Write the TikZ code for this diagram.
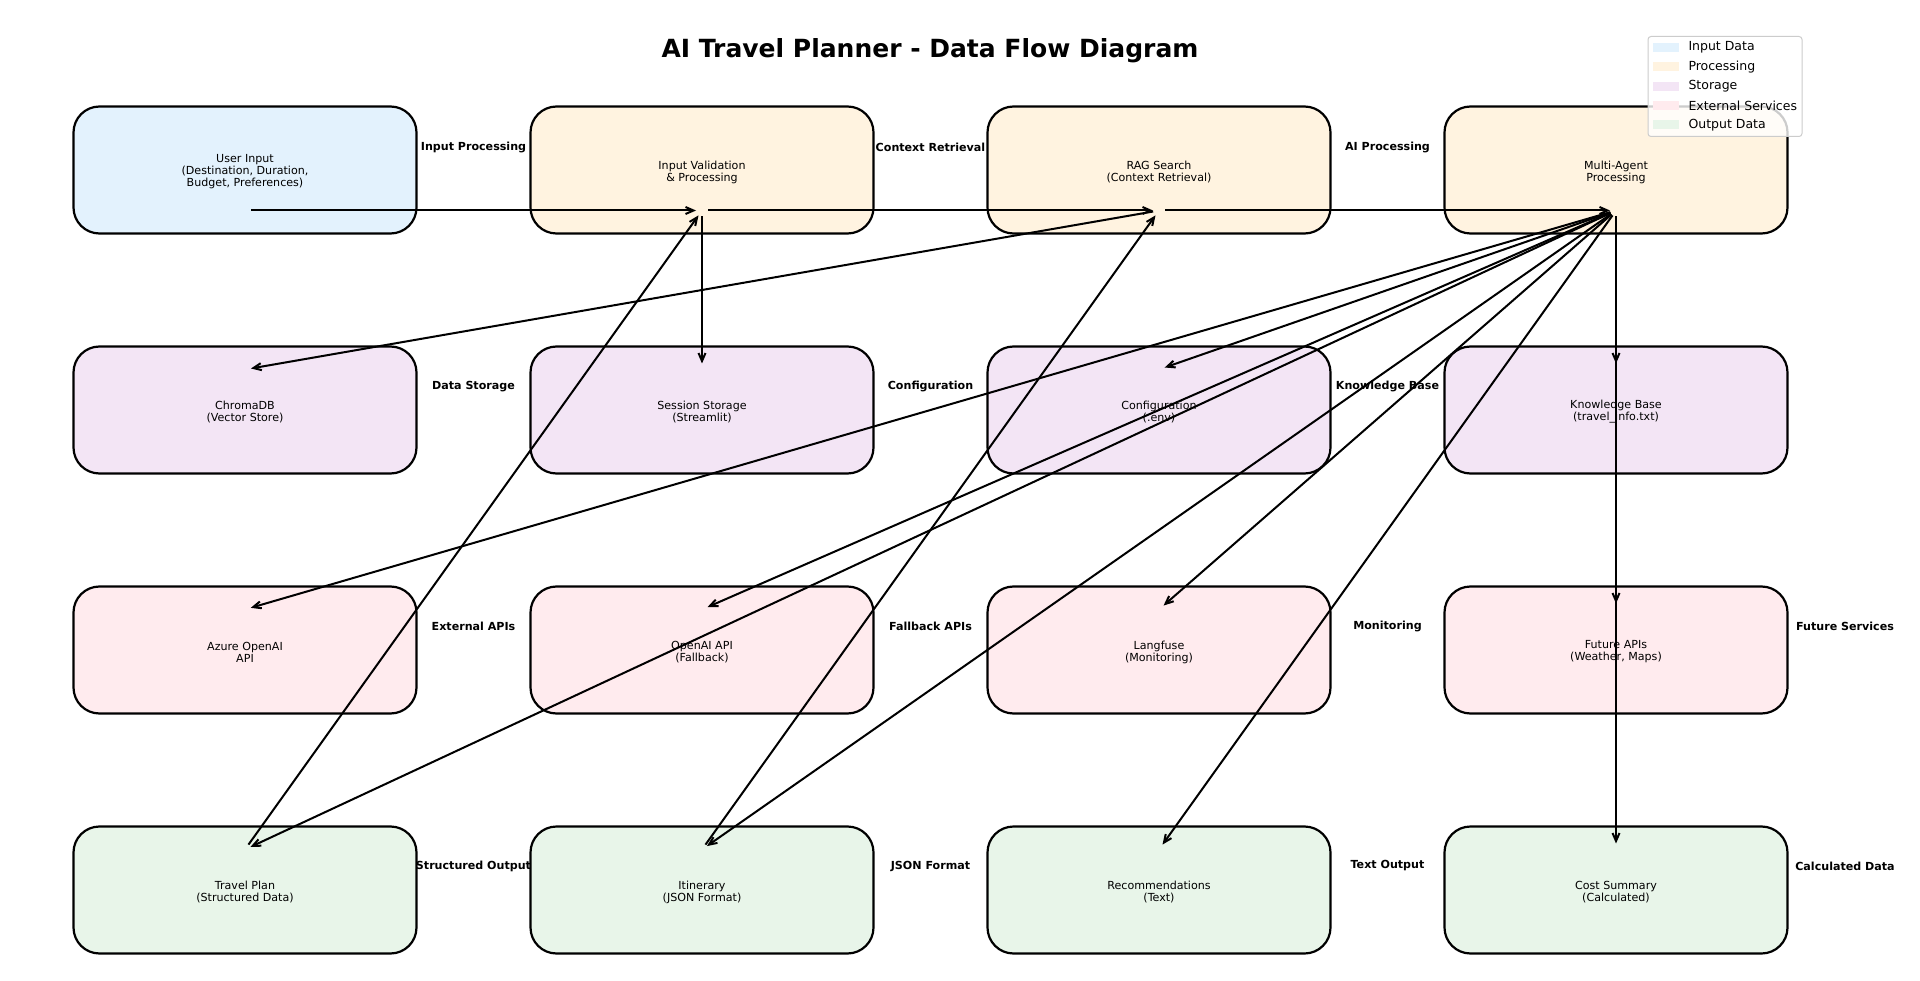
\documentclass[tikz,border=0pt]{standalone}
\usepackage{fontspec}
\setmainfont{DejaVu Sans}
\usetikzlibrary{arrows.meta}
\definecolor{cin}{HTML}{E3F2FD}
\definecolor{cproc}{HTML}{FFF3E0}
\definecolor{cstor}{HTML}{F3E5F5}
\definecolor{cext}{HTML}{FFEBEE}
\definecolor{cout}{HTML}{E8F5E9}
\begin{document}
\begin{tikzpicture}[x=1pt,y=-1pt,
  box/.style={draw=black, line width=2.2pt, rounded corners=26pt, minimum width=343pt, minimum height=127pt, inner sep=0pt, align=center, text=black, font=\fontsize{11.1}{12}\selectfont},
  boxtext/.style={inner sep=0pt, align=center, text=black, font=\fontsize{11.1}{12}\selectfont},
  lab/.style={inner sep=0pt, font=\fontsize{11.1}{13}\selectfont\bfseries},
  flow/.style={line width=2pt, -{Straight Barb[length=8pt,width=7pt]}, shorten >=6pt, shorten <=6pt},
  legtext/.style={anchor=west, inner sep=0pt, font=\fontsize{12.5}{14}\selectfont}
]
\useasboundingbox (0,0) rectangle (1920,981);
\fill[white] (0,0) rectangle (1920,981);

\node[font=\fontsize{25}{29}\selectfont\bfseries] (title) at (930,50.5) {AI Travel Planner - Data Flow Diagram};

% row 1
\node[box, fill=cin]   (ui)  at (245,170)  {};
\node[box, fill=cproc] (iv)  at (702,170)  {};
\node[box, fill=cproc] (rag) at (1159,170) {};
\node[box, fill=cproc] (ma)  at (1616,170) {};
% row 2
\node[box, fill=cstor] (chroma) at (245,410)  {};
\node[box, fill=cstor] (sess)   at (702,410)  {};
\node[box, fill=cstor] (conf)   at (1159,410) {};
\node[box, fill=cstor] (kb)     at (1616,410) {};
% row 3
\node[box, fill=cext] (azure) at (245,650)  {};
\node[box, fill=cext] (oai)   at (702,650)  {};
\node[box, fill=cext] (lang)  at (1159,650) {};
\node[box, fill=cext] (fut)   at (1616,650) {};
% row 4
\node[box, fill=cout] (plan) at (245,890)  {};
\node[box, fill=cout] (itin) at (702,890)  {};
\node[box, fill=cout] (rec)  at (1159,890) {};
\node[box, fill=cout] (cost) at (1616,890) {};

% box texts
\node[boxtext] (ui-x)  at ([yshift=-2]ui.center)  {User Input\\(Destination, Duration,\\Budget, Preferences)};
\node[boxtext] (iv-x)  at ([yshift=-2]iv.center)  {Input Validation\\\& Processing};
\node[boxtext] (rag-x) at ([yshift=-2]rag.center) {RAG Search\\(Context Retrieval)};
\node[boxtext] (ma-x)  at ([yshift=-2]ma.center)  {Multi-Agent\\Processing};
\node[boxtext] (chroma-x) at ([yshift=-2]chroma.center) {ChromaDB\\(Vector Store)};
\node[boxtext] (sess-x)   at ([yshift=-2]sess.center)   {Session Storage\\(Streamlit)};
\node[boxtext] (conf-x)   at ([yshift=-2]conf.center)   {Configuration\\(.env)};
\node[boxtext] (kb-x)     at ([yshift=-2]kb.center)     {Knowledge Base\\(travel\_info.txt)};
\node[boxtext] (azure-x) at ([yshift=-2]azure.center) {Azure OpenAI\\API};
\node[boxtext] (oai-x)   at ([yshift=-2]oai.center)   {OpenAI API\\(Fallback)};
\node[boxtext] (lang-x)  at ([yshift=-2]lang.center)  {Langfuse\\(Monitoring)};
\node[boxtext] (fut-x)   at ([yshift=-2]fut.center)   {Future APIs\\(Weather, Maps)};
\node[boxtext] (plan-x) at ([yshift=-2]plan.center) {Travel Plan\\(Structured Data)};
\node[boxtext] (itin-x) at ([yshift=-2]itin.center) {Itinerary\\(JSON Format)};
\node[boxtext] (rec-x)  at ([yshift=-2]rec.center)  {Recommendations\\(Text)};
\node[boxtext] (cost-x) at ([yshift=-2]cost.center) {Cost Summary\\(Calculated)};

% labels
\node[lab] (l1) at (473.5,147)  {Input Processing};
\node[lab] (l2) at (930.5,147)  {Context Retrieval};
\node[lab] (l3) at (1387.5,147) {AI Processing};
\node[lab] (l4) at (473.5,386.5)  {Data Storage};
\node[lab] (l5) at (930.5,386.5)  {Configuration};
\node[lab] (l6) at (1387.5,386.5) {Knowledge Base};
\node[lab] (l7) at (473.5,626)    {External APIs};
\node[lab] (l8) at (930.5,626)    {Fallback APIs};
\node[lab] (l9) at (1387.5,626)   {Monitoring};
\node[lab] (l10) at (1845,626)    {Future Services};
\node[lab] (l11) at (473.5,866)   {Structured Output};
\node[lab] (l12) at (930.5,866)   {JSON Format};
\node[lab] (l13) at (1387.5,866)  {Text Output};
\node[lab] (l14) at (1845,866)    {Calculated Data};

% anchor points
\foreach \n in {ui,iv,rag,ma} { \path (\n.center) ++(0,40.5) coordinate (\n-b); }
\foreach \n in {chroma,sess,conf,kb,azure,oai,lang,fut,plan,itin,rec,cost} { \path (\n.center) ++(0,-40.5) coordinate (\n-t); }

% connectors
\draw[flow] (ui-b) -- (iv-b);
\draw[flow] (iv-b) -- (rag-b);
\draw[flow] (rag-b) -- (ma-b);
\draw[flow] (iv-b) -- (sess-t);
\draw[flow] (rag-b) -- (chroma-t);
\foreach \n in {conf,kb,azure,oai,lang,fut,plan,itin,rec,cost} { \draw[flow] (ma-b) -- (\n-t); }
\draw[flow] (plan-t) -- (iv-b);
\draw[flow] (itin-t) -- (rag-b);

% legend
\node[draw=black!20, line width=1pt, rounded corners=3pt, fill=white, fill opacity=0.8, minimum width=154pt, minimum height=100pt, inner sep=0pt] (legend) at (1725,86.5) {};
\fill[cin]   (1652.7,43.2)  rectangle (1679,52.2);
\fill[cproc] (1652.7,62.5)  rectangle (1679,71.5);
\fill[cstor] (1652.7,81.8)  rectangle (1679,90.8);
\fill[cext]  (1652.7,101)   rectangle (1679,110);
\fill[cout]  (1652.7,120.2) rectangle (1679,129.2);
\node[legtext] (t1) at (1688.3,47.7)  {Input Data};
\node[legtext] (t2) at (1688.3,67)    {Processing};
\node[legtext] (t3) at (1688.3,86.3)  {Storage};
\node[legtext] (t4) at (1688.3,105.5) {External Services};
\node[legtext] (t5) at (1688.3,124.7) {Output Data};
\end{tikzpicture}
\end{document}
